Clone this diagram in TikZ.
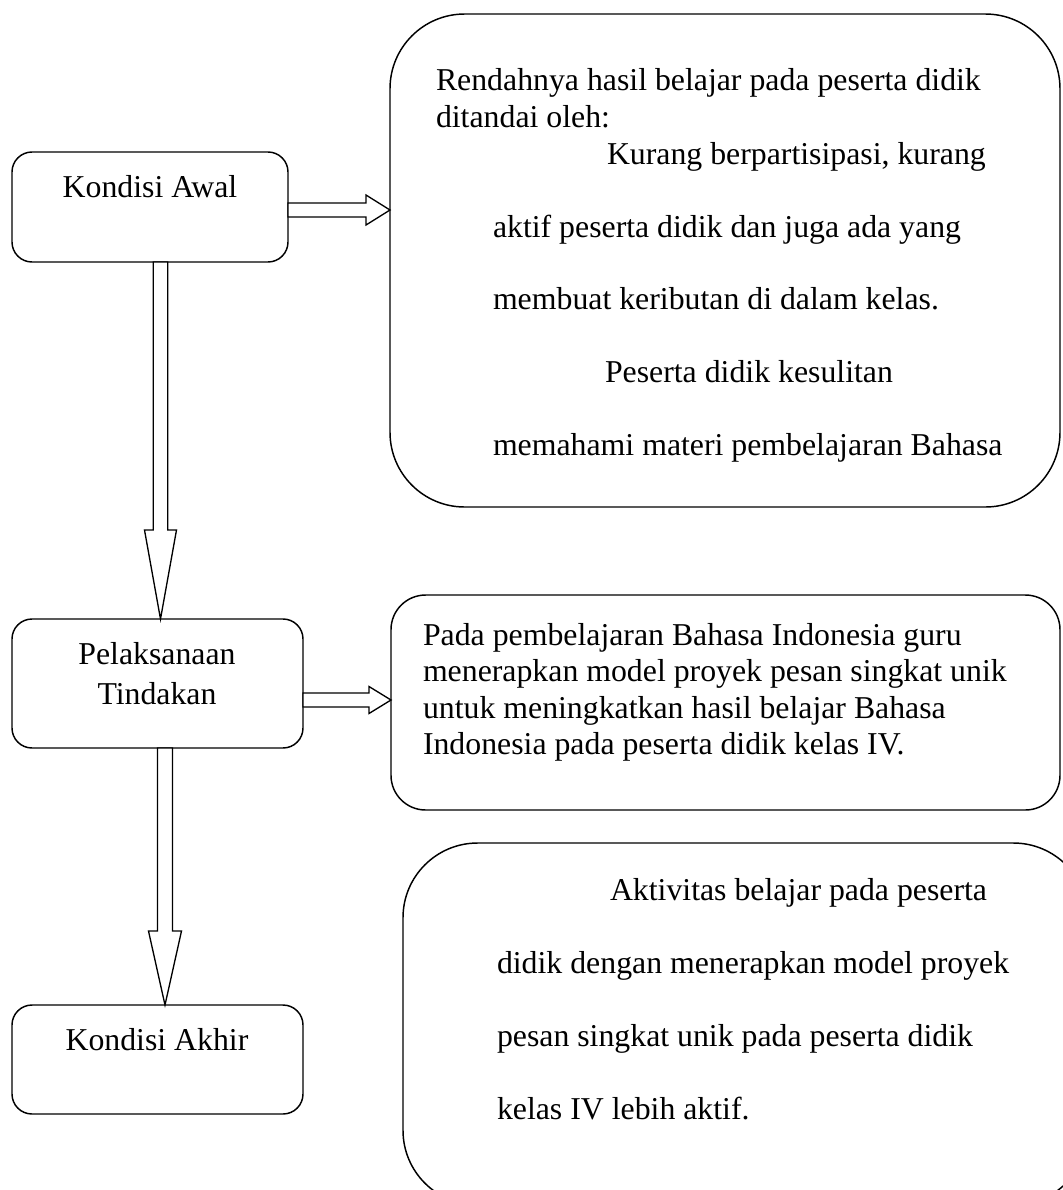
\documentclass[tikz,border=0pt]{standalone}
\usepackage{fontspec}
\setmainfont{Liberation Serif}
\usetikzlibrary{calc}
\begin{document}
\begin{tikzpicture}[x=0.75pt,y=-0.75pt,
  box/.style={draw,line width=1.1pt,rounded corners=#1,inner sep=0pt,outer sep=0pt},
  txt/.style={inner sep=0pt,outer sep=0pt,font=\fontsize{23.85pt}{27.4pt}\selectfont},
  blockarrow/.style={draw,fill=white,line width=1pt,line join=miter}]
\clip (0,0) rectangle (1063,1190);
\fill[white] (0,0) rectangle (1063,1190);

% left boxes
\node[box=15pt,minimum width=207pt,minimum height=82.5pt] (A) at (150,207) {};
\node[box=15pt,minimum width=218.25pt,minimum height=96.75pt] (B) at (157.5,683.5) {};
\node[box=15pt,minimum width=218.25pt,minimum height=81.75pt] (C) at (157.5,1059.5) {};

% right boxes
\node[box=56pt,minimum width=502.5pt,minimum height=369.75pt] (R1) at (725,260.5) {};
\node[box=26pt,minimum width=501.75pt,minimum height=161.25pt] (R2) at (725.5,702.5) {};
\node[box=56pt,minimum width=513.75pt,minimum height=271.5pt] (R3) at (745.5,1024) {};

% left texts
\node[txt,anchor=base] (tA) at (150,197) {Kondisi Awal};
\node[txt,anchor=base] (tB1) at (157,664) {Pelaksanaan};
\node[txt,anchor=base] (tB2) at (157,704) {Tindakan};
\node[txt,anchor=base] (tC) at (157,1050) {Kondisi Akhir};

% R1 texts
\node[txt,anchor=base west] (r1a) at (436,90) {Rendahnya hasil belajar pada peserta didik};
\node[txt,anchor=base west] (r1b) at (436,127) {ditandai oleh:};
\node[txt,anchor=base west] (r1c) at (607,164) {Kurang berpartisipasi, kurang};
\node[txt,anchor=base west] (r1d) at (493,237) {aktif peserta didik dan juga ada yang};
\node[txt,anchor=base west] (r1e) at (493,309) {membuat keributan di dalam kelas.};
\node[txt,anchor=base west] (r1f) at (605,382) {Peserta didik kesulitan};
\node[txt,anchor=base west] (r1g) at (493,455) {memahami materi pembelajaran Bahasa};

% R2 texts
\node[txt,anchor=base west] (r2a) at (423,645) {Pada pembelajaran Bahasa Indonesia guru};
\node[txt,anchor=base west] (r2b) at (423,681.5) {menerapkan model proyek pesan singkat unik};
\node[txt,anchor=base west] (r2c) at (423,718) {untuk meningkatkan hasil belajar Bahasa};
\node[txt,anchor=base west] (r2d) at (423,754.5) {Indonesia pada peserta didik kelas IV.};

% R3 texts
\node[txt,anchor=base west] (r3a) at (610,900) {Aktivitas belajar pada peserta};
\node[txt,anchor=base west] (r3b) at (497,973) {didik dengan menerapkan model proyek};
\node[txt,anchor=base west] (r3c) at (497,1046) {pesan singkat unik pada peserta didik};
\node[txt,anchor=base west] (r3d) at (497,1119) {kelas IV lebih aktif.};

% arrow A -> R1
\path ($(A.east)+(0,3)$) coordinate (a1s);
\path (R1.west |- a1s) coordinate (a1t);
\draw[blockarrow] ($(a1s)+(0,-7)$) -- ($(a1t)+(-24,-7)$) -- ($(a1t)+(-24,-15)$) -- (a1t)
  -- ($(a1t)+(-24,15)$) -- ($(a1t)+(-24,7)$) -- ($(a1s)+(0,7)$) -- cycle;

% arrow B -> R2
\path ($(B.east)+(0,16.5)$) coordinate (a2s);
\path (R2.west |- a2s) coordinate (a2t);
\draw[blockarrow] ($(a2s)+(0,-7)$) -- ($(a2t)+(-22,-7)$) -- ($(a2t)+(-22,-13.5)$) -- (a2t)
  -- ($(a2t)+(-22,13.5)$) -- ($(a2t)+(-22,7)$) -- ($(a2s)+(0,7)$) -- cycle;

% arrow A -> B
\path ($(A.south)+(10.5,0)$) coordinate (d1s);
\path (B.north -| d1s) coordinate (d1t);
\draw[blockarrow] ($(d1s)+(-7.2,0)$) -- ($(d1t)+(-7.2,-89)$) -- ($(d1t)+(-16,-89)$) -- (d1t)
  -- ($(d1t)+(16,-89)$) -- ($(d1t)+(7.2,-89)$) -- ($(d1s)+(7.2,0)$) -- cycle;

% arrow B -> C
\path ($(B.south)+(7.5,0)$) coordinate (d2s);
\path (C.north -| d2s) coordinate (d2t);
\draw[blockarrow] ($(d2s)+(-7.5,0)$) -- ($(d2t)+(-7.5,-74)$) -- ($(d2t)+(-16.5,-74)$) -- (d2t)
  -- ($(d2t)+(16.5,-74)$) -- ($(d2t)+(7.5,-74)$) -- ($(d2s)+(7.5,0)$) -- cycle;
\end{tikzpicture}
\end{document}
